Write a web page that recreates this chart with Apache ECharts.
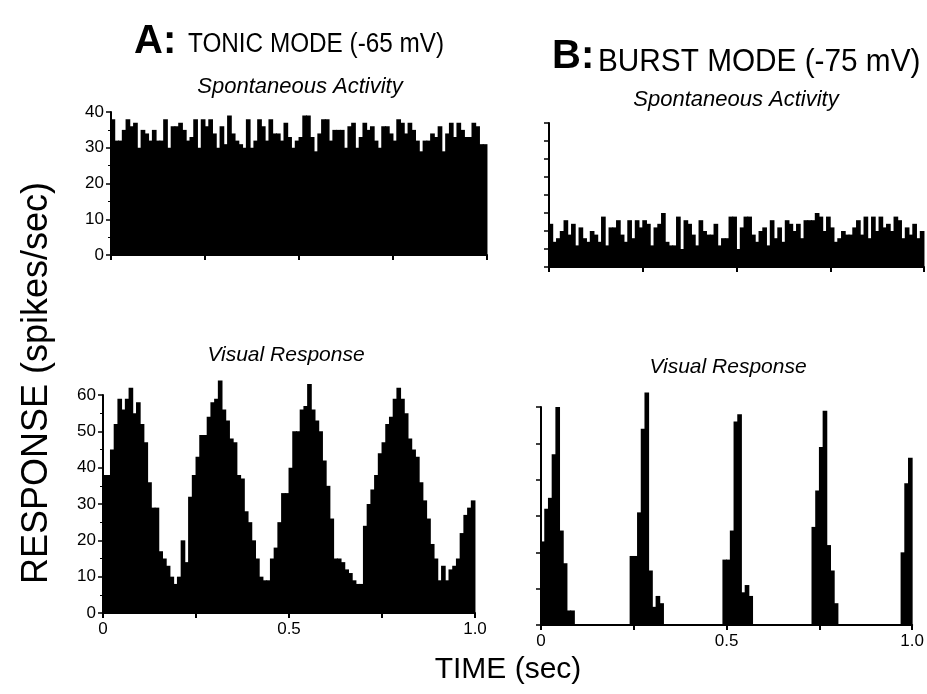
<!DOCTYPE html>
<html>
<head>
<meta charset="utf-8">
<title>Tonic vs burst mode</title>
<script src="https://cdn.jsdelivr.net/npm/echarts@6/dist/echarts.min.js"></script>
<style>
    html, body { margin: 0; padding: 0; background: #fff; }
    #main { width: 927px; height: 694px; }
</style>
</head>
<body>
<div id="main"></div>
<script>
// 10 ms bins over 1 sec, values in spikes/sec
var tonicSpont = [
    38, 32, 32, 35, 38, 36, 37, 30, 35, 34,
    32, 35, 32, 32, 38, 30, 36, 36, 37, 35,
    32, 33, 38, 30, 38, 36, 38, 34, 30, 36,
    31, 39, 34, 32, 31, 30, 38, 30, 32, 38,
    36, 32, 38, 34, 34, 32, 37, 33, 30, 32,
    33, 39, 39, 33, 29, 34, 38, 38, 32, 35,
    35, 35, 30, 36, 37, 30, 33, 37, 35, 36,
    32, 30, 36, 36, 34, 32, 38, 37, 34, 37,
    35, 32, 29, 32, 32, 34, 33, 36, 29, 34,
    37, 33, 37, 35, 33, 33, 37, 36, 31, 31
];
var burstSpont = [
    12, 7, 8, 10, 13, 9, 12, 6, 11, 8,
    7, 10, 9, 7, 14, 6, 11, 11, 13, 9,
    7, 13, 8, 13, 11, 13, 12, 6, 11, 12,
    15, 7, 6, 6, 14, 5, 13, 12, 9, 6,
    13, 10, 9, 9, 12, 6, 8, 8, 14, 14,
    5, 11, 14, 14, 9, 7, 10, 11, 6, 13,
    8, 11, 7, 13, 12, 10, 12, 8, 13, 13,
    13, 15, 14, 10, 14, 11, 7, 8, 10, 9,
    9, 11, 13, 9, 14, 8, 14, 10, 14, 11,
    12, 10, 14, 13, 8, 11, 9, 12, 8, 10
];
var tonicVisual = [
    38, 38, 45, 52, 59, 56, 59, 62, 55, 58,
    52, 47, 36, 29, 29, 17, 15, 13, 10, 8,
    10, 20, 14, 32, 38, 43, 49, 49, 54, 58,
    59, 64, 56, 53, 48, 47, 38, 37, 28, 25,
    20, 15, 10, 9, 9, 15, 18, 25, 33, 33,
    40, 50, 50, 56, 57, 63, 56, 53, 50, 42,
    35, 26, 15, 15, 14, 12, 11, 9, 8, 8,
    24, 30, 34, 38, 44, 47, 52, 54, 59, 62,
    59, 55, 48, 45, 43, 36, 31, 26, 19, 15,
    9, 13, 9, 12, 13, 15, 22, 27, 29, 31
];
var burstVisual = [
    23, 32, 35, 47, 60, 26, 17, 4, 4, 0,
    0, 0, 0, 0, 0, 0, 0, 0, 0, 0,
    0, 0, 0, 0, 19, 19, 31, 54, 64, 15,
    5, 8, 6, 0, 0, 0, 0, 0, 0, 0,
    0, 0, 0, 0, 0, 0, 0, 0, 0, 18,
    18, 26, 56, 58, 9, 11, 8, 0, 0, 0,
    0, 0, 0, 0, 0, 0, 0, 0, 0, 0,
    0, 0, 0, 27, 37, 49, 59, 22, 15, 6,
    0, 0, 0, 0, 0, 0, 0, 0, 0, 0,
    0, 0, 0, 0, 0, 0, 0, 20, 39, 46
];
var timeTicks = [0, 0.25, 0.5, 0.75, 1.0];
var timeLabels = ['0', '', '0.5', '', '1.0'];

var myChart = echarts.init(document.getElementById('main'));
var ink = '#000';
var font = '"Liberation Sans", Arial, sans-serif';

var grids = [];
var xAxes = [];
var yAxes = [];
var series = [];

/**
 * one histogram panel: hidden category axis for the bins,
 * a value axis 0..1 sec for the ticks
 */
function addPanel(box, values, yMax, yStep, yLabels, xLabels, minor) {
    var g = grids.length;
    grids.push(box);
    var bins = values.map(function (v, i) { return i; });
    xAxes.push({
        type: 'category', gridIndex: g, data: bins, show: false,
        position: 'bottom', boundaryGap: true
    });
    xAxes.push({
        type: 'value', gridIndex: g, min: 0, max: 1, interval: 0.25,
        position: 'bottom',
        axisLine: { show: true, lineStyle: { color: ink, width: 2 } },
        axisTick: { show: true, length: 5, lineStyle: { color: ink, width: 2 } },
        axisLabel: {
            show: xLabels, color: ink, fontSize: 17, fontFamily: font, margin: 8,
            formatter: function (v) {
                return timeLabels[timeTicks.indexOf(v)] || '';
            }
        },
        splitLine: { show: false }
    });
    yAxes.push({
        type: 'value', gridIndex: g, min: 0, max: yMax, interval: yStep,
        axisLine: { show: true, lineStyle: { color: ink, width: 2 } },
        axisTick: { show: true, length: 5, lineStyle: { color: ink, width: 1.5 } },
        minorTick: { show: minor, splitNumber: 2, length: 3, lineStyle: { color: ink, width: 1 } },
        axisLabel: { show: yLabels, color: ink, fontSize: 17, fontFamily: font, margin: 7 },
        splitLine: { show: false }
    });
    series.push({
        type: 'bar',
        xAxisIndex: 2 * g,
        yAxisIndex: g,
        data: values,
        // a bit wider than the bin so neighbouring bins close up with no hairline gap
        barWidth: '125%',
        clip: false,
        itemStyle: { color: ink },
        silent: true,
        animation: false
    });
}

addPanel({ left: 111, top: 112, width: 376, height: 143 }, tonicSpont, 40, 10, true, false, true);
addPanel({ left: 549, top: 123, width: 375, height: 144 }, burstSpont, 40, 5, false, false, false);
addPanel({ left: 103, top: 395, width: 372, height: 218 }, tonicVisual, 60, 10, true, true, true);
addPanel({ left: 541, top: 407, width: 372, height: 218 }, burstVisual, 60, 10, false, true, false);

function label(x, y, text, size, opts) {
    opts = opts || {};
    return {
        type: 'text', x: x, y: y,
        rotation: opts.rotation || 0,
        scaleX: opts.scaleX || 1,
        silent: true,
        style: {
            text: text,
            font: (opts.style || '') + ' ' + size + 'px ' + font,
            fill: ink,
            align: opts.align || 'left',
            verticalAlign: 'middle'
        }
    };
}

var option = {
    backgroundColor: '#fff',
    animation: false,
    grid: grids,
    xAxis: xAxes,
    yAxis: yAxes,
    series: series,
    graphic: [
        label(134, 42, 'A:', 40, { style: 'bold' }),
        label(188, 45, 'TONIC MODE (-65 mV)', 27, { scaleX: 0.9 }),
        label(552, 57, 'B:', 40, { style: 'bold' }),
        label(598, 62, 'BURST MODE (-75 mV)', 31, { scaleX: 0.96 }),
        label(300, 87, 'Spontaneous Activity', 22, { style: 'italic', align: 'center' }),
        label(736, 100, 'Spontaneous Activity', 22, { style: 'italic', align: 'center' }),
        label(286, 355, 'Visual Response', 21, { style: 'italic', align: 'center' }),
        label(728, 367, 'Visual Response', 21, { style: 'italic', align: 'center' }),
        label(37, 383, 'RESPONSE (spikes/sec)', 36, { rotation: Math.PI / 2, align: 'center' }),
        label(508, 670, 'TIME (sec)', 30, { align: 'center' })
    ]
};

myChart.setOption(option);
window.addEventListener('resize', function () {
    myChart.resize();
});
</script>
</body>
</html>
